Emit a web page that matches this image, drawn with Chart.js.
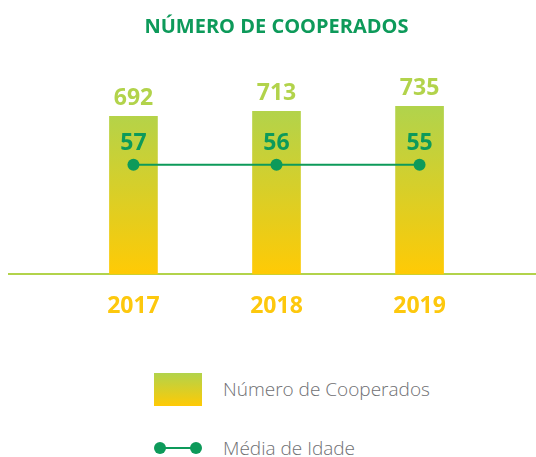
<!DOCTYPE html>
<html>
<head>
<meta charset="utf-8">
<script src="https://cdn.jsdelivr.net/npm/chart.js@4.4.0/dist/chart.umd.min.js"></script>
<style>
  body { margin: 0; background: #fff; font-family: 'Open Sans', sans-serif; overflow: hidden; }
  #wrap { position: relative; width: 536px; height: 457px; overflow: hidden; }
  #chart { position: absolute; left: 0; top: 0; }
  .leg { position: absolute; left: 154px; height: 34px; display: flex; align-items: center; }
  .leg span { position: absolute; left: 69px; white-space: nowrap; font-size: 19px; font-weight: 300; color: #6f7073; }
  .swatch { width: 48px; height: 33px; background: linear-gradient(#b2d34b, #ffca05); }
  .dots { position: relative; width: 48px; height: 12px; }
  .dots i { position: absolute; top: 0; width: 12px; height: 12px; border-radius: 50%; background: #0d9a5a; }
  .dots b { position: absolute; top: 5px; left: 6px; right: 6px; height: 2px; background: #0d9a5a; }
</style>
</head>
<body>
<div id="wrap">
  <canvas id="chart" width="544" height="338"></canvas>
  <div class="leg" style="top:372px"><div class="swatch"></div><span>Número de Cooperados</span></div>
  <div class="leg" style="top:431px"><div class="dots"><i style="left:0"></i><b></b><i style="right:0"></i></div><span>Média de Idade</span></div>
</div>
<script>
const years = ['2017', '2018', '2019'];
const cooperados = [692, 713, 735];
const mediaIdade = [57, 56, 55];

const GREEN = '#0d9a5a';
const LIME = '#b2d34b';
const YELLOW = '#fdc80d';

// value labels above bars and points
const labelPlugin = {
  id: 'labels',
  afterDatasetsDraw(chart) {
    const ctx = chart.ctx;
    ctx.save();
    ctx.textAlign = 'center';
    ctx.textBaseline = 'middle';
    ctx.font = 'bold 23px "Open Sans"';
    chart.getDatasetMeta(0).data.forEach((bar, i) => {
      ctx.fillStyle = LIME;
      ctx.fillText(String(cooperados[i]), bar.x, bar.y - 18);
    });
    chart.getDatasetMeta(1).data.forEach((pt, i) => {
      ctx.fillStyle = GREEN;
      ctx.fillText(String(mediaIdade[i]), pt.x, pt.y - 21);
    });
    ctx.restore();
  }
};

function barGradient(context) {
  const chart = context.chart;
  const area = chart.chartArea;
  if (!area) return YELLOW;
  const y = chart.scales.y;
  const g = chart.ctx.createLinearGradient(0, y.getPixelForValue(0), 0, y.getPixelForValue(720));
  g.addColorStop(0, '#ffca05');
  g.addColorStop(1, LIME);
  return g;
}

new Chart(document.getElementById('chart'), {
  data: {
    datasets: [
      {
        type: 'bar',
        label: 'Número de Cooperados',
        data: cooperados.map((v, i) => ({ x: i, y: v })),
        backgroundColor: barGradient,
        barThickness: 48,
        yAxisID: 'y',
        order: 1
      },
      {
        type: 'line',
        label: 'Média de Idade',
        data: mediaIdade.map((v, i) => ({ x: i, y: v })),
        borderColor: GREEN,
        backgroundColor: GREEN,
        borderWidth: 2,
        pointRadius: 6,
        pointBorderWidth: 0,
        pointBackgroundColor: GREEN,
        yAxisID: 'y2',
        order: 0
      }
    ]
  },
  options: {
    responsive: false,
    animation: false,
    devicePixelRatio: 1,
    layout: { padding: { left: 9, right: 0, top: 0, bottom: 0 } },
    plugins: {
      legend: { display: false },
      tooltip: { enabled: false },
      title: {
        display: true,
        text: 'NÚMERO DE COOPERADOS',
        color: GREEN,
        font: { family: 'Open Sans', size: 20, weight: 'bold' },
        padding: { top: 15, bottom: 16 }
      }
    },
    scales: {
      x: {
        type: 'linear',
        offset: false,
        min: -0.87,
        max: 2.828,
        grid: { display: false, drawTicks: false, tickLength: 0 },
        border: { display: true, color: LIME, width: 2 },
        afterBuildTicks: (scale) => { scale.ticks = years.map((_, i) => ({ value: i })); },
        ticks: {
          padding: 18,
          color: YELLOW,
          font: { family: 'Open Sans', size: 23, weight: 'bold' },
          callback: (v) => years[v]
        }
      },
      y: { display: false, min: 0, max: 960 },
      y2: { display: false, min: -2158, max: 2274 }
    }
  },
  plugins: [labelPlugin]
});
</script>
</body>
</html>
